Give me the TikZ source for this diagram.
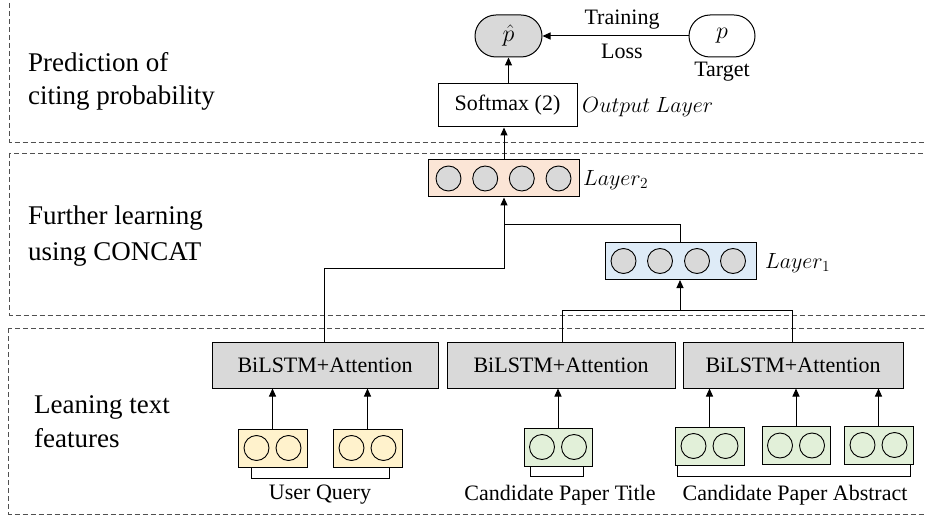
\RequirePackage{fix-cm}
\documentclass[tikz,border=0pt]{standalone}
\usepackage{fontspec}
\setmainfont{Liberation Serif}
\usetikzlibrary{arrows.meta,shapes.misc,calc}
\definecolor{boxgray}{HTML}{D9D9D9}
\definecolor{peach}{HTML}{FBE5D6}
\definecolor{lblue}{HTML}{DEEBF7}
\definecolor{lyellow}{HTML}{FFF2CC}
\definecolor{lgreen}{HTML}{E2F0D9}
\definecolor{dashgray}{HTML}{505050}
\begin{document}
\begin{tikzpicture}[x=1pt,y=-1pt,
  panel/.style={draw=dashgray, dash pattern=on 5pt off 3pt, line width=0.9pt},
  lbl/.style={font=\fontsize{22}{26}\selectfont, inner sep=0},
  sidelbl/.style={font=\fontsize{27}{33}\selectfont, inner sep=0, anchor=base west},
  bilstm/.style={draw, fill=boxgray, minimum height=46pt, inner sep=0, line width=1pt, font=\fontsize{22}{26}\selectfont},
  emb/.style={draw, minimum width=69pt, minimum height=38pt, inner sep=0, line width=1pt},
  layerbox/.style={draw, minimum width=151pt, minimum height=37pt, inner sep=0, line width=1pt},
  neur/.style={circle, draw, minimum size=25pt, inner sep=0, line width=0.9pt},
  arr/.style={-{Triangle[length=8pt,width=7pt]}, line width=1pt},
  conn/.style={line width=1pt},
  brk/.style={line width=1pt}]
\useasboundingbox (0,0) rectangle (925,521);
\clip (0,0) rectangle (925,521);
% panels
\draw[panel] (9.5,-5) rectangle (940,142);
\draw[panel] (9.5,153) rectangle (940,315);
\draw[panel] (8.5,328) rectangle (940,514);
% side labels
\node[sidelbl] (s1a) at (28,72) {Prediction of};
\node[sidelbl] (s1b) at (28,105) {citing probability};
\node[sidelbl] (s2a) at (28,225) {Further learning};
\node[sidelbl] (s2b) at (28,260) {using CONCAT};
\node[sidelbl] (s3a) at (34,413) {Leaning text};
\node[sidelbl] (s3b) at (34,447) {features};
% output
\node[rounded rectangle, draw, fill=boxgray, minimum width=67pt, minimum height=42pt, inner sep=0, line width=1pt, font=\fontsize{24}{28}\selectfont] (ph) at (508.5,36) {$\hat{p}$};
\node[rounded rectangle, draw, fill=white, minimum width=66pt, minimum height=42pt, inner sep=0, line width=1pt, font=\fontsize{24}{28}\selectfont] (pt) at (722,36) {$p$};
\node[lbl] (tr) at (622,20) {Training};
\node[lbl] (ls) at (622,51) {Loss};
\node[lbl] (tg) at (722,72) {Target};
\draw[arr] (pt.west) -- (ph.east);
\node[draw, fill=white, minimum width=139pt, minimum height=43pt, inner sep=0, line width=1pt, font=\fontsize{22}{26}\selectfont] (sm) at (507.5,105.5) {Softmax (2)};
\node[lbl, anchor=west] (ol) at (582,107) {$Output\ Layer$};
\draw[arr] (sm.north -| ph.south) -- (ph.south);
% layer 2
\node[layerbox, fill=peach] (l2) at (503.5,178.5) {};
\foreach \i/\dx in {1/-55,2/-18.3,3/18.3,4/55}
  \node[neur, fill=boxgray] (l2n\i) at ($(l2.center)+(\dx,0)$) {};
\node[lbl, anchor=west] (l2t) at (583,180) {$Layer_2$};
\draw[arr] (l2.north -| 504,0) -- (sm.south -| 504,0);
% layer 1
\node[layerbox, fill=lblue] (l1) at (680.5,261) {};
\foreach \i/\dx in {1/-57,2/-20.5,3/16.5,4/52.5}
  \node[neur, fill=boxgray] (l1n\i) at ($(l1.center)+(\dx,0)$) {};
\node[lbl, anchor=west] (l1t) at (765,263) {$Layer_1$};
% BiLSTM boxes
\node[bilstm, minimum width=226pt] (b1) at (325,365) {BiLSTM+Attention};
\node[bilstm, minimum width=228pt] (b2) at (561,365) {BiLSTM+Attention};
\node[bilstm, minimum width=220pt] (b3) at (793,365) {BiLSTM+Attention};
% connectors to layers
\coordinate (j1) at (504,225);
\coordinate (j2) at (504,268);
\coordinate (j3) at (680,310);
\draw[arr] (b1.north -| 324,0) |- (j2) -- (j2 |- l2.south);
\draw[conn] (l1.north -| 680,0) |- (j1);
\draw[conn] (b2.north -| 562,0) |- (j3);
\draw[conn] (b3.north -| 792,0) |- (j3);
\draw[arr] (j3) -- (j3 |- l1.south);
% embeddings
\node[emb, fill=lyellow] (ea) at (272.5,448) {};
\node[emb, fill=lyellow] (eb) at (367.5,448) {};
\node[emb, fill=lgreen, minimum width=68pt] (et) at (558,447) {};
\node[emb, fill=lgreen] (ec) at (709.5,446) {};
\node[emb, fill=lgreen, minimum width=68pt] (ed) at (796,445.5) {};
\node[emb, fill=lgreen] (ee) at (878.5,445) {};
\foreach \e in {ea,eb,et,ec,ed,ee}{
  \node[neur] (\e L) at ($(\e.center)+(-16,0)$) {};
  \node[neur] (\e R) at ($(\e.center)+(16,0)$) {};
}
\draw[arr] (ea.north) -- (ea.north |- b1.south);
\draw[arr] (eb.north) -- (eb.north |- b1.south);
\draw[arr] (et.north) -- (et.north |- b2.south);
\draw[arr] (ec.north) -- (ec.north |- b3.south);
\draw[arr] (ed.north) -- (ed.north |- b3.south);
\draw[arr] (ee.north) -- (ee.north |- b3.south);
% brackets
\draw[brk] (ea.south -| 251,0) -- (251,478) -- (389,478) -- (eb.south -| 389,0);
\draw[brk] (et.south -| 530,0) -- (530,476) -- (583,476) -- (et.south -| 583,0);
\draw[brk] (ec.south -| 677,0) -- (677,476) -- (910,476) -- (ee.south -| 910,0);
\node[lbl] (uq) at (320,495) {User Query};
\node[lbl] (ct) at (560,495) {Candidate Paper Title};
\node[lbl] (ca) at (795,495) {Candidate Paper Abstract};
\end{tikzpicture}
\end{document}
